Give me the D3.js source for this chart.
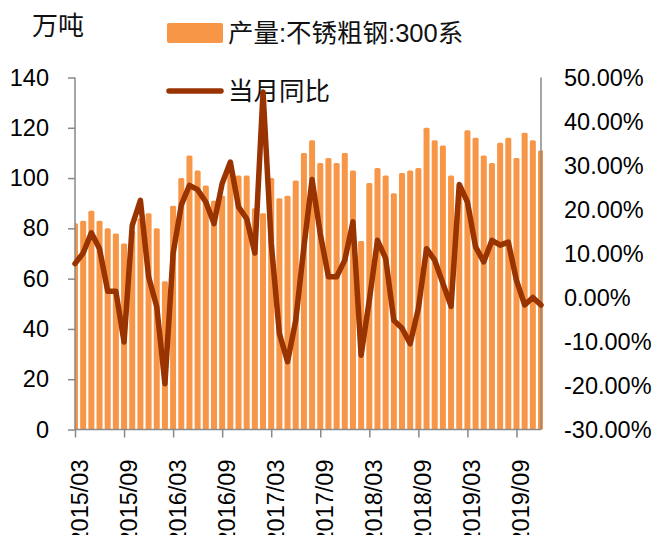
<!DOCTYPE html>
<html>
<head>
<meta charset="utf-8">
<script src="https://cdn.jsdelivr.net/npm/d3@7"></script>
<style>
  body { margin: 0; background: #fff; }
  svg { display: block; }
</style>
</head>
<body>
<svg id="chart" width="655" height="535"></svg>
<script>
// categories, 2015/03 .. 2019/12
var months = [
  "2015/03","2015/04","2015/05","2015/06","2015/07","2015/08","2015/09","2015/10","2015/11","2015/12",
  "2016/01","2016/02","2016/03","2016/04","2016/05","2016/06","2016/07","2016/08","2016/09","2016/10",
  "2016/11","2016/12","2017/01","2017/02","2017/03","2017/04","2017/05","2017/06","2017/07","2017/08",
  "2017/09","2017/10","2017/11","2017/12","2018/01","2018/02","2018/03","2018/04","2018/05","2018/06",
  "2018/07","2018/08","2018/09","2018/10","2018/11","2018/12","2019/01","2019/02","2019/03","2019/04",
  "2019/05","2019/06","2019/07","2019/08","2019/09","2019/10","2019/11","2019/12"
];

// 产量:不锈粗钢:300系 (万吨)
var output = [
  82, 83, 87, 83, 80, 78, 74, 79, 84, 86, 80, 59,
  89, 100, 109, 103, 97, 91, 93, 103, 101, 101, 88, 86,
  100, 92, 93, 99, 110, 115, 106, 108, 106, 110, 103, 75,
  98, 104, 101, 94, 102, 103, 104, 120, 115, 113, 101, 94,
  119, 116, 109, 106, 114, 116, 108, 118, 115, 111
];

// 当月同比 (%)
var yoy = [
  7.7, 10.1, 14.7, 11.1, 1.4, 1.4, -10.1, 16.4, 22.1, 4.7, -2.1, -19.6,
  10.0, 21.0, 25.5, 24.5, 21.7, 16.8, 25.9, 30.8, 20.6, 17.9, 10.1, 46.7,
  12.4, -8.2, -14.6, -5.2, 11.5, 26.8, 14.5, 4.7, 4.7, 8.5, 17.2, -13.1,
  -0.6, 13.0, 8.9, -5.2, -7.0, -10.5, -2.5, 11.1, 8.5, 3.2, -2.0, 25.7,
  21.7, 11.5, 8.1, 13.0, 11.9, 12.6, 3.9, -1.7, 0.0, -1.7
];

var leftTicks = [0, 20, 40, 60, 80, 100, 120, 140];
var rightTicks = [-30, -20, -10, 0, 10, 20, 30, 40, 50];

var numFont = "'Liberation Sans', Arial, sans-serif";
var cjkFont = "'Liberation Sans', 'Noto Sans CJK SC', sans-serif";
var barColor = "#F79646";
var lineColor = "#993300";
var axisColor = "#898989";

var svg = d3.select("#chart");
var plotLeft = 75, plotRight = 541, plotTop = 77.5, plotBottom = 429.5;

var x = d3.scalePoint().domain(months).range([plotLeft, plotRight]);
var yL = d3.scaleLinear().domain([0, 140]).range([plotBottom, plotTop]);
var yR = d3.scaleLinear().domain([-30, 50]).range([plotBottom, plotTop]);
var barW = 6;

svg.append("defs").append("clipPath")
    .attr("id", "plot")
  .append("rect")
    .attr("x", plotLeft).attr("y", 0)
    .attr("width", plotRight - plotLeft + 2).attr("height", plotBottom + 1);

// unit
svg.append("text")
    .attr("x", 32).attr("y", 26)
    .attr("dy", "0.35em")
    .attr("font-family", cjkFont)
    .attr("font-size", 26)
    .attr("fill", "#111")
    .text("万吨");

// legend
var legend = svg.append("g");
legend.append("rect")
    .attr("x", 167).attr("y", 23)
    .attr("width", 56).attr("height", 20)
    .attr("rx", 2)
    .attr("fill", barColor);
legend.append("text")
    .attr("x", 228).attr("y", 33)
    .attr("dy", "0.35em")
    .attr("font-family", cjkFont)
    .attr("font-size", 25.5)
    .attr("fill", "#111")
    .text("产量:不锈粗钢:300系");
legend.append("line")
    .attr("x1", 169).attr("x2", 221)
    .attr("y1", 91).attr("y2", 91)
    .attr("stroke", lineColor)
    .attr("stroke-width", 5.5)
    .attr("stroke-linecap", "round");
legend.append("text")
    .attr("x", 228).attr("y", 91)
    .attr("dy", "0.35em")
    .attr("font-family", cjkFont)
    .attr("font-size", 25.5)
    .attr("fill", "#111")
    .text("当月同比");

// bars
svg.append("g")
    .attr("clip-path", "url(#plot)")
  .selectAll("rect")
  .data(output)
  .join("rect")
    .attr("x", function(d, i) { return x(months[i]) - barW / 2; })
    .attr("y", function(d) { return yL(d); })
    .attr("width", barW)
    .attr("height", function(d) { return yL(0) - yL(d); })
    .attr("rx", 1.5)
    .attr("fill", barColor);

// axes
var gL = svg.append("g")
    .attr("transform", "translate(" + plotLeft + ",0)")
    .call(d3.axisLeft(yL).tickValues(leftTicks).tickSize(7).tickPadding(19));

var gR = svg.append("g")
    .attr("transform", "translate(" + plotRight + ",0)")
    .call(d3.axisRight(yR).tickValues(rightTicks).tickSize(0).tickPadding(23)
      .tickFormat(function(d) { return d.toFixed(2) + "%"; }));

var gB = svg.append("g")
    .attr("transform", "translate(0," + plotBottom + ")")
    .call(d3.axisBottom(x)
      .tickValues(months.filter(function(m, i) { return i % 6 === 0; }))
      .tickSize(8));

[gL, gR, gB].forEach(function(g) {
  g.select(".domain").attr("stroke", axisColor).attr("stroke-width", 1.5);
  g.selectAll(".tick line").attr("stroke", axisColor).attr("stroke-width", 1.5);
  g.selectAll("text")
      .attr("font-family", numFont)
      .attr("font-size", 23.5)
      .attr("fill", "#000");
});
gL.select(".domain").attr("d", "M0," + plotTop + "V" + plotBottom);
gR.select(".domain").attr("d", "M0," + plotTop + "V" + plotBottom);
gB.select(".domain").attr("d", "M" + plotLeft + ",0H" + plotRight);

gB.selectAll(".tick text")
    .attr("transform", "translate(4,30) rotate(-90)")
    .attr("text-anchor", "end")
    .attr("x", 0).attr("y", 0)
    .attr("dy", "0.35em");

// yoy line
var line = d3.line()
    .x(function(d, i) { return x(months[i]); })
    .y(function(d) { return yR(d); });

svg.append("path")
    .datum(yoy)
    .attr("d", line)
    .attr("fill", "none")
    .attr("stroke", lineColor)
    .attr("stroke-width", 5.5)
    .attr("stroke-linejoin", "round")
    .attr("stroke-linecap", "round");
</script>
</body>
</html>
